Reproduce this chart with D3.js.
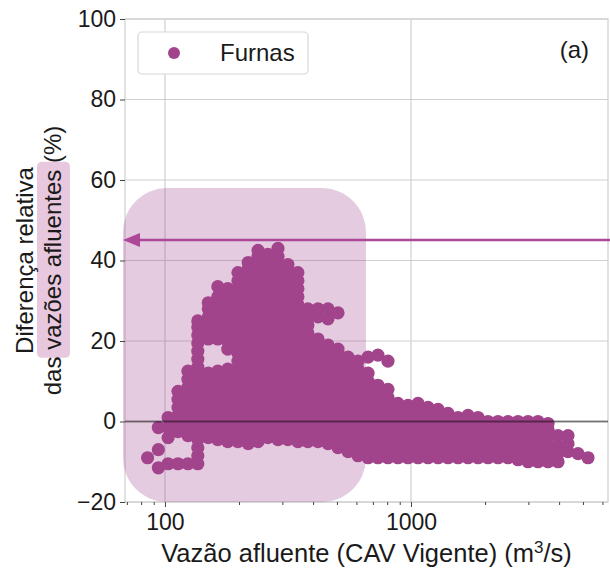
<!DOCTYPE html>
<html>
<head>
<meta charset="utf-8">
<script src="https://cdn.jsdelivr.net/npm/d3@7"></script>
<style>
  body { margin: 0; background: #fff; }
  svg { display: block; }
  text { font-family: "Liberation Sans", Arial, Helvetica, sans-serif; fill: #1a1a1a; }
</style>
</head>
<body>
<svg id="chart" width="610" height="573"></svg>
<script>
// Inflow (m3/s) of each column of points, and the relative differences (%) observed at that inflow
const vazaoColunas = [85, 94, 103, 113, 124, 136, 150, 164, 180, 198, 218, 239, 262, 288, 316, 347, 381, 419,
  460, 505, 555, 609, 669, 734, 806, 885, 972, 1068, 1173, 1288, 1414, 1553, 1705, 1873, 2056, 2258, 2480,
  2723, 2990, 3283, 3605, 3959, 4347, 4774, 5242];

const diferencaColunas = [
  [-9],
  [-11.5, -7, -1.5],
  [-10.5, -4, -1.5, 1],
  [-10.5, -2.5, -0.5, 1.5, 3.5, 5.5, 7.5],
  [-10.5, -3.5, -1.5, 0.5, 2.5, 4.5, 6.5, 8.5, 10.5, 12.5],
  [-10.5, -8.5, -6.5, -4.5, -2.5, -0.5, 1.5, 3.5, 5.5, 7.5, 9.5, 11.5, 13.5, 15.5, 17.5, 19.5, 21.5, 23.5, 25],
  [-4, -2, 0, 2, 4, 6, 8, 10, 12, 20.5, 22, 24, 26, 28, 29.5],
  [-4.5, -3, -1, 1, 3, 5, 7, 9, 11, 12.5, 20.5, 23, 25, 27, 29, 31, 33.5],
  [-5, -4, -2, 0, 2, 4, 6, 8, 10, 12, 13, 18, 20, 22, 24, 26, 28, 30, 32, 33],
  [-5, -3, -1, 1, 3, 5, 7, 9, 11, 13, 15, 17, 19, 21, 23, 25, 27, 29, 31, 33, 35, 37],
  [-5.5, -4, -2, 0, 2, 4, 6, 8, 10, 12, 14, 16, 18, 20, 22, 24, 26, 28, 30, 32, 34, 36, 38, 39.5],
  [-5, -3, -1, 1, 3, 5, 7, 9, 11, 13, 15, 17, 19, 21, 23, 25, 27, 29, 31, 33, 35, 37, 39, 41, 42.5],
  [-4, -2, 0, 2, 4, 6, 8, 10, 12, 14, 16, 18, 20, 22, 24, 26, 28, 30, 32, 34, 36, 38, 40, 41.5],
  [-4.5, -3, -1, 1, 3, 5, 7, 9, 11, 13, 15, 17, 19, 21, 23, 25, 27, 29, 31, 33, 35, 37, 39, 41, 43],
  [-4.5, -2, 0, 2, 4, 6, 8, 10, 12, 14, 16, 18, 20, 22, 24, 26, 28, 30, 32, 34, 36, 38, 39],
  [-5, -3, -1, 1, 3, 5, 7, 9, 11, 13, 15, 17, 19, 21, 23, 25, 27, 29, 31, 33, 35, 37],
  [-5, -4, -2, 0, 2, 4, 6, 8, 10, 12, 14, 16, 18, 20, 22, 24, 26, 28],
  [-5, -3, -1, 1, 3, 5, 7, 9, 11, 13, 15, 17, 19, 20.5, 26, 28],
  [-5.5, -4, -2, 0, 2, 4, 6, 8, 10, 12, 14, 16, 18, 19, 25.5, 28],
  [-6.5, -5, -3, -1, 1, 3, 5, 7, 9, 11, 13, 15, 17, 18, 27],
  [-7.5, -6, -4, -2, 0, 2, 4, 6, 8, 10, 12, 14, 16],
  [-8.5, -7, -5, -3, -1, 1, 3, 5, 7, 9, 11, 13, 15],
  [-9, -8, -6, -4, -2, 0, 2, 4, 6, 8, 10, 12, 16],
  [-9, -7, -5, -3, -1, 1, 3, 5, 7, 9, 16.5],
  [-9, -8, -6, -4, -2, 0, 2, 4, 6, 8, 15],
  [-9, -7, -5, -3, -1, 1, 3, 4.5],
  [-9, -8, -6, -4, -2, 0, 2, 4],
  [-9, -7, -5, -3, -1, 1, 3, 4.5],
  [-9, -8, -6, -4, -2, 0, 2, 3.5],
  [-9, -7, -5, -3, -1, 1, 3],
  [-9, -8, -6, -4, -2, 0, 2],
  [-9, -7, -5, -3, -1, 1],
  [-9, -8, -6, -4, -2, 0, 1.5],
  [-9, -7, -5, -3, -1, 1],
  [-9, -8, -6, -4, -2, 0],
  [-9, -7, -5, -3, -1, 0],
  [-9, -8, -6, -4, -2, 0],
  [-9.5, -7, -5, -3, -1, 0],
  [-10, -8, -6, -4, -2, 0],
  [-10, -9, -7, -5, -3, -1, 0],
  [-10, -8, -6, -4, -2, -0.5],
  [-10, -8, -6, -3.5],
  [-7.5, -5.5, -3.5],
  [-8],
  [-9]
];

const yTicks = [-20, 0, 20, 40, 60, 80, 100];
const xTicksMaiores = [100, 1000];
const nomeSerie = "Furnas";
const rotuloPainel = "(a)";
const nivelSeta = 45.1;           // difference (%) pointed at by the arrow
const faixaDestaque = { vazaoMax: 656, diferencaMax: 58 };

const corPontos = "#a1448c";
const corSeta = "#ad4898";
const corRosa = "#e8c8de";
const raio = 6.6;

const svg = d3.select("#chart");
const plot = { left: 125, right: 608, top: 19, bottom: 502 };

const x = d3.scaleLog().domain([68.8, 6320]).range([plot.left, plot.right]);
const y = d3.scaleLinear().domain([-20, 100]).range([plot.bottom, plot.top]);

const pontos = vazaoColunas.flatMap((q, i) => diferencaColunas[i].map(d => ({ q, d })));

// grid
const grade = svg.append("g");
grade.selectAll("line.h").data(yTicks).join("line")
  .attr("x1", plot.left).attr("x2", plot.right)
  .attr("y1", d => y(d)).attr("y2", d => y(d))
  .attr("stroke", "#cfcfcf").attr("stroke-width", 1.2);
grade.selectAll("line.v").data(xTicksMaiores).join("line")
  .attr("x1", d => x(d)).attr("x2", d => x(d))
  .attr("y1", plot.top).attr("y2", plot.bottom)
  .attr("stroke", "#cfcfcf").attr("stroke-width", 1.2);
svg.append("rect")
  .attr("x", plot.left).attr("y", plot.top)
  .attr("width", plot.right - plot.left).attr("height", plot.bottom - plot.top)
  .attr("fill", "none").attr("stroke", "#cfcfcf").attr("stroke-width", 1.2);

// highlighted low-flow region
svg.append("rect")
  .attr("x", plot.left - 2).attr("y", y(faixaDestaque.diferencaMax))
  .attr("width", x(faixaDestaque.vazaoMax) - plot.left + 2)
  .attr("height", plot.bottom - y(faixaDestaque.diferencaMax))
  .attr("rx", 44).attr("ry", 44)
  .attr("fill", corPontos).attr("fill-opacity", 0.28);

// scatter points
svg.append("g").selectAll("circle").data(pontos).join("circle")
  .attr("cx", p => x(p.q)).attr("cy", p => y(p.d)).attr("r", raio)
  .attr("fill", corPontos);

// zero reference line
svg.append("line")
  .attr("x1", plot.left).attr("x2", plot.right)
  .attr("y1", y(0)).attr("y2", y(0))
  .attr("stroke", "#000").attr("stroke-opacity", 0.45).attr("stroke-width", 1.8);

// axes
svg.append("g").attr("transform", `translate(${plot.left},0)`)
  .call(d3.axisLeft(y).tickValues(yTicks).tickSize(5).tickPadding(4));
svg.append("g").attr("transform", `translate(0,${plot.bottom})`)
  .call(d3.axisBottom(x).tickValues(xTicksMaiores).tickFormat(d => d).tickSize(5).tickPadding(7));
const menores = x.ticks().filter(v => !xTicksMaiores.includes(v));
svg.append("g").attr("transform", `translate(0,${plot.bottom})`)
  .call(d3.axisBottom(x).tickValues(menores).tickFormat("").tickSize(3));
svg.selectAll(".domain").remove();
svg.selectAll(".tick line").attr("stroke", "#444").attr("stroke-width", 1);
svg.selectAll(".tick text").attr("font-size", 23).attr("fill", "#1a1a1a")
  .style("font-family", '"Liberation Sans", Arial, sans-serif');

// x axis title
const tituloX = svg.append("text")
  .attr("x", (plot.left + plot.right) / 2).attr("y", 562)
  .attr("text-anchor", "middle").attr("font-size", 25.5);
tituloX.append("tspan").text("Vazão afluente (CAV Vigente) (m");
tituloX.append("tspan").text("3").attr("font-size", 17).attr("dy", -9);
tituloX.append("tspan").text("/s)").attr("dy", 9);

// y axis title with highlighted words
const gY = svg.append("g").attr("transform", `translate(0,${(plot.top + plot.bottom) / 2}) rotate(-90)`);
const fundo = gY.append("rect");
gY.append("text").attr("x", 0).attr("y", 33).attr("text-anchor", "middle")
  .attr("font-size", 24).text("Diferença relativa");
const linha2 = gY.append("text").attr("x", 0).attr("y", 61).attr("text-anchor", "middle")
  .attr("font-size", 24).text("das vazões afluentes (%)");
const n2 = linha2.node();
const total = n2.getComputedTextLength();
const ini = n2.getSubStringLength(0, 4);
const meio = n2.getSubStringLength(4, 16);
fundo.attr("x", -total / 2 + ini - 8).attr("width", meio + 16)
  .attr("y", 37).attr("height", 33).attr("rx", 5)
  .attr("fill", corRosa);

// arrow pointing at the highlighted level
const ya = y(nivelSeta);
svg.append("line").attr("x1", 610).attr("x2", 136).attr("y1", ya).attr("y2", ya)
  .attr("stroke", corSeta).attr("stroke-width", 2.4);
svg.append("path")
  .attr("d", `M123,${ya} L140,${ya - 7} L140,${ya + 7} Z`)
  .attr("fill", corSeta);

// legend
svg.append("rect").attr("x", 138).attr("y", 32).attr("width", 170).attr("height", 42)
  .attr("rx", 4).attr("fill", "#fff").attr("stroke", "#d8d8d8").attr("stroke-width", 1.2);
svg.append("circle").attr("cx", 174).attr("cy", 53).attr("r", 6).attr("fill", corPontos);
svg.append("text").attr("x", 220).attr("y", 61).attr("font-size", 24).text(nomeSerie);

// panel label
svg.append("text").attr("x", 589).attr("y", 58).attr("text-anchor", "end")
  .attr("font-size", 24).text(rotuloPainel);
</script>
</body>
</html>
